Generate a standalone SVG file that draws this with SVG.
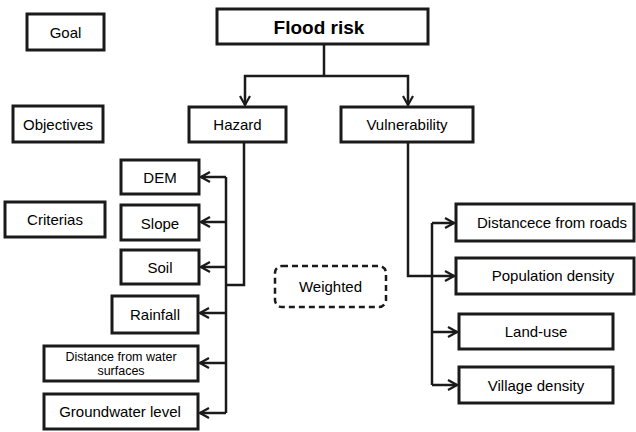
<svg xmlns="http://www.w3.org/2000/svg" width="636" height="432" viewBox="0 0 636 432">
<defs>
<marker id="ah" markerWidth="12" markerHeight="12" refX="10" refY="6" orient="auto" markerUnits="userSpaceOnUse">
<path d="M1,1 L10,6 L1,11" fill="none" stroke="#1a1a1a" stroke-width="2.2"/>
</marker>
<style>
.b{fill:#fff;stroke:#1a1a1a;stroke-width:3}
.t{font-family:"Liberation Sans",Arial,sans-serif;font-size:15px;fill:#000;text-anchor:middle}
.s{font-size:12.5px}
.c{fill:none;stroke:#1a1a1a;stroke-width:2.5}
</style>
</defs>
<rect width="636" height="432" fill="#fff"/>
<g id="goal"><rect class="b" x="27" y="14" width="77" height="36"/><text class="t" x="65.5" y="37.5">Goal</text></g>
<g id="objectives"><rect class="b" x="13" y="106" width="90" height="36"/><text class="t" x="58" y="129.5">Objectives</text></g>
<g id="criterias"><rect class="b" x="5" y="202" width="100" height="35"/><text class="t" x="55" y="225">Criterias</text></g>
<g id="flood"><rect class="b" x="217" y="9" width="211" height="35"/><text class="t" x="319" y="33.5" style="font-size:19px;font-weight:bold">Flood risk</text></g>
<g id="hazard"><rect class="b" x="189" y="107" width="97" height="35"/><text class="t" x="237.5" y="130">Hazard</text></g>
<g id="vulnerability"><rect class="b" x="341" y="107" width="132" height="35"/><text class="t" x="407" y="130">Vulnerability</text></g>
<g id="dem"><rect class="b" x="121" y="160" width="78" height="34"/><text class="t" x="160" y="182.5">DEM</text></g>
<g id="slope"><rect class="b" x="121" y="205" width="78" height="35"/><text class="t" x="160" y="228.5">Slope</text></g>
<g id="soil"><rect class="b" x="121" y="250" width="78" height="34"/><text class="t" x="160" y="272.5">Soil</text></g>
<g id="rainfall"><rect class="b" x="112" y="296" width="86" height="37"/><text class="t" x="155" y="319.5">Rainfall</text></g>
<g id="distwater"><rect class="b" x="44" y="346" width="154" height="35"/><text class="t s" x="121" y="361">Distance from water</text><text class="t s" x="121" y="375">surfaces</text></g>
<g id="groundwater"><rect class="b" x="44" y="394" width="154" height="35"/><text class="t" x="120" y="417">Groundwater level</text></g>
<g id="weighted"><rect x="275" y="266" width="111" height="41" rx="7" fill="#fff" stroke="#1a1a1a" stroke-width="2.5" stroke-dasharray="6,4"/><text class="t" x="330.5" y="291.5">Weighted</text></g>
<g id="roads"><rect class="b" x="456" y="204" width="178" height="37"/><text class="t" x="552" y="227.5">Distancece from roads</text></g>
<g id="population"><rect class="b" x="456" y="258" width="178" height="36"/><text class="t" x="553" y="281">Population density</text></g>
<g id="landuse"><rect class="b" x="459" y="314" width="154" height="35"/><text class="t" x="536" y="337">Land-use</text></g>
<g id="village"><rect class="b" x="459" y="367" width="154" height="36"/><text class="t" x="536" y="390.5">Village density</text></g>
<g id="connectors">
<path class="c" d="M324,44 V76"/>
<path class="c" d="M324,76 H245 V105" marker-end="url(#ah)"/>
<path class="c" d="M324,76 H408 V105" marker-end="url(#ah)"/>
<path class="c" d="M244,142 V285 H226"/>
<path class="c" d="M226,177 V413"/>
<path class="c" d="M226,177 H201" marker-end="url(#ah)"/>
<path class="c" d="M226,222 H201" marker-end="url(#ah)"/>
<path class="c" d="M226,267 H201" marker-end="url(#ah)"/>
<path class="c" d="M226,313 H200" marker-end="url(#ah)"/>
<path class="c" d="M226,363 H200" marker-end="url(#ah)"/>
<path class="c" d="M226,413 H200" marker-end="url(#ah)"/>
<path class="c" d="M408,142 V276 H454" marker-end="url(#ah)"/>
<path class="c" d="M432,223 V385"/>
<path class="c" d="M432,223 H454" marker-end="url(#ah)"/>
<path class="c" d="M432,332 H457" marker-end="url(#ah)"/>
<path class="c" d="M432,385 H457" marker-end="url(#ah)"/>
</g>
</svg>
